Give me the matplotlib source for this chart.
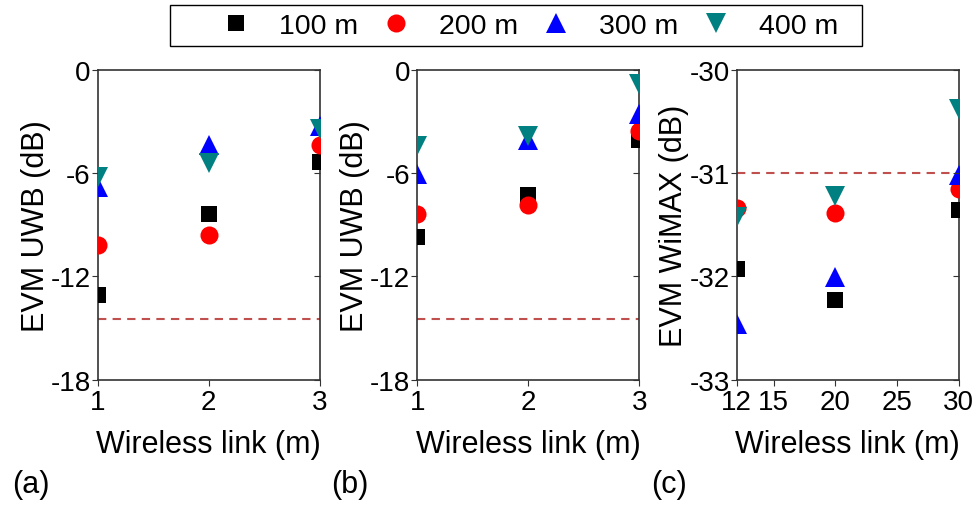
import matplotlib
matplotlib.use("Agg")
import matplotlib.pyplot as plt
from matplotlib.patches import Rectangle

plt.rcParams["font.family"] = ["Liberation Sans", "DejaVu Sans"]

# ── data ─────────────────────────────────────────────
SERIES = ["100 m", "200 m", "300 m", "400 m"]
COLORS = ["black", "#ff0000", "#0000ff", "#008080"]
MARKERS = ["s", "o", "^", "v"]
MSIZES = [11, 13, 14, 14]

x_uwb = [1, 2, 3]
uwb_a = [
    [-13.1, -8.4, -5.35],   # 100 m
    [-10.15, -9.6, -4.4],   # 200 m
    [-6.8, -4.35, -3.25],   # 300 m
    [-6.25, -5.4, -3.45],   # 400 m
]
uwb_b = [
    [-9.7, -7.25, -4.1],
    [-8.35, -7.85, -3.55],
    [-6.05, -4.1, -2.55],
    [-4.45, -3.85, -0.85],
]
x_wimax = [12, 20, 30]
wimax_c = [
    [-31.93, -32.23, -31.36],
    [-31.34, -31.39, -31.15],
    [-32.46, -32.01, -31.02],
    [-31.43, -31.22, -30.38],
]
uwb_limit = -14.45
wimax_limit = -31.0

fig = plt.figure(figsize=(9.77, 5.06), dpi=100)
positions = [0.100, 0.4271, 0.754]
panels = [
    (x_uwb, uwb_a, uwb_limit, (1, 3), [1, 2, 3], (-18, 0), [-18, -12, -6, 0], "EVM UWB (dB)", "(a)"),
    (x_uwb, uwb_b, uwb_limit, (1, 3), [1, 2, 3], (-18, 0), [-18, -12, -6, 0], "EVM UWB (dB)", "(b)"),
    (x_wimax, wimax_c, wimax_limit, (12, 30), [12, 15, 20, 25, 30], (-33, -30), [-33, -32, -31, -30],
     "EVM WiMAX (dB)", "(c)"),
]

handles = []
for left, (xs, data, limit, xlim, xticks, ylim, yticks, ylabel, tag) in zip(positions, panels):
    ax = fig.add_axes([left, 0.2476, 0.2272, 0.6127])
    ax.axhline(limit, color="#c0504d", linestyle=(0, (4, 3)), linewidth=1.5, zorder=1)
    hs = []
    for ys, c, m, ms, lab in zip(data, COLORS, MARKERS, MSIZES, SERIES):
        (h,) = ax.plot(xs, ys, linestyle="none", marker=m, color=c, markersize=ms,
                       markeredgewidth=0, label=lab, zorder=3)
        hs.append(h)
    handles = hs
    ax.set_xlim(*xlim)
    ax.set_ylim(*ylim)
    ax.set_xticks(xticks)
    ax.set_yticks(yticks)
    ax.set_yticklabels([str(t) for t in yticks])
    ax.tick_params(axis="x", direction="out", labelsize=20, length=4, pad=3, color="#333333")
    ax.tick_params(axis="y", direction="out", labelsize=20, length=4, pad=1, color="#333333")
    ax.set_xlabel("Wireless link (m)", fontsize=22, labelpad=10)
    ax.set_ylabel(ylabel, fontsize=22, labelpad=0)
    for sp in ax.spines.values():
        sp.set_color("#333333")
        sp.set_linewidth(1.2)

    # inward ticks on the right spine
    axr = ax.twinx()
    axr.set_ylim(*ylim)
    axr.set_yticks(yticks)
    axr.tick_params(axis="y", direction="in", length=4, labelright=False, color="#333333")
    for sp in axr.spines.values():
        sp.set_visible(False)

    fig.text(left - 0.088, 0.012, tag, fontsize=22, ha="left", va="bottom")

# legend box spans wider than its entries, drawn separately
fig.patches.append(Rectangle((170 / 977, 1 - 47 / 506), 692 / 977, 41 / 506,
                             transform=fig.transFigure, fill=False, edgecolor="black", linewidth=1.0))
fig.legend(handles=handles, labels=SERIES, loc="center left", bbox_to_anchor=(0.2272, 1 - 26.5 / 506),
           ncol=4, fontsize=20.5, frameon=False, handletextpad=1.0, columnspacing=0.84,
           borderpad=0, borderaxespad=0, handlelength=1.0)

fig.savefig("out.png", dpi=100)
